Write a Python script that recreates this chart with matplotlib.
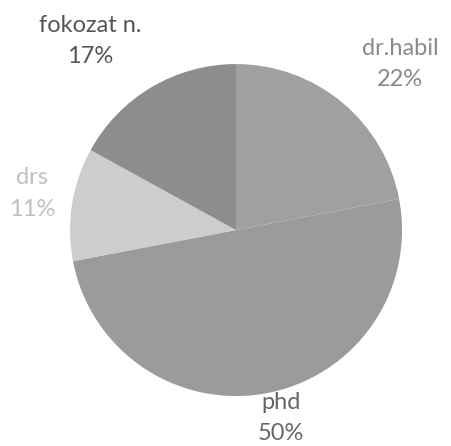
import matplotlib as mpl
mpl.use('Agg')
import matplotlib.pyplot as plt

labels = ["dr.habil", "phd", "drs", "fokozat n."]
shares = [22, 50, 11, 17]
colors = ["#a0a0a0", "#9b9b9b", "#cdcdcd", "#8d8d8d"]
text_colors = ["#8a8a8a", "#666666", "#c0c0c0", "#555555"]
# label positions (data units, pie radius = 1)
label_pos = [(0.99, 1.00), (0.27, -1.13), (-1.23, 0.22), (-0.88, 1.14)]

fig = plt.figure(figsize=(4.51, 4.46), dpi=100)
ax = fig.add_axes([0, 0, 1, 1])
ax.pie(shares, colors=colors, startangle=90, counterclock=False,
       radius=1, wedgeprops=dict(linewidth=0))
for lab, val, (x, y), c in zip(labels, shares, label_pos, text_colors):
    ax.text(x, y, f"{lab}\n{val}%", ha="center", va="center", fontsize=17,
            color=c, family="Lato", linespacing=1.6)
ax.set_xlim(-1.422, 1.295)
ax.set_ylim(-1.301, 1.386)
ax.set_aspect("equal")
ax.axis("off")
fig.savefig("out.png", dpi=100)
